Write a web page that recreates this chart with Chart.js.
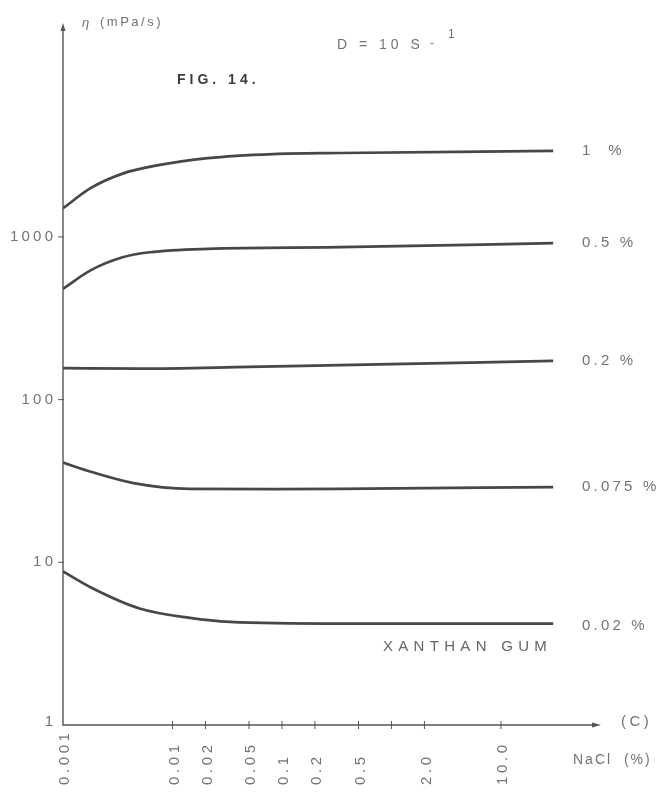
<!DOCTYPE html>
<html>
<head>
<meta charset="utf-8">
<script src="https://cdn.jsdelivr.net/npm/chart.js@4"></script>
<style>
  body { margin: 0; background: #fff; }
  #wrap { width: 664px; height: 793px; position: relative; }
</style>
</head>
<body>
<div id="wrap"><canvas id="fig14"></canvas></div>
<script>
// NaCl concentration (%) and viscosity (mPa/s)
const nacl1 = [0.001, 0.0018, 0.0035, 0.0072, 0.021, 0.083, 0.34, 30];
const visc1 = [1500, 2000, 2450, 2750, 3050, 3230, 3280, 3380];

const nacl05 = [0.001, 0.0018, 0.0035, 0.0062, 0.021, 0.34, 30];
const visc05 = [480, 625, 750, 805, 845, 865, 915];

const nacl02 = [0.001, 0.005, 0.05, 0.34, 30];
const visc02 = [156, 155, 159, 163, 173];

const nacl0075 = [0.001, 0.0018, 0.0044, 0.0144, 0.083, 0.34, 30];
const visc0075 = [41, 36, 30.7, 28.3, 28.2, 28.3, 29];

const nacl002 = [0.001, 0.0018, 0.005, 0.0144, 0.0335, 0.34, 30];
const visc002 = [8.8, 7.0, 5.2, 4.55, 4.3, 4.2, 4.2];

const seriesLabels = ['1  %', '0.5 %', '0.2 %', '0.075 %', '0.02 %'];

const xTicks = [0.001, 0.01, 0.02, 0.05, 0.1, 0.2, 0.5, 1, 2, 10];
const xTickLabels = ['0.001', '0.01', '0.02', '0.05', '0.1', '0.2', '0.5', '', '2.0', '10.0'];
const yTicks = [1, 10, 100, 1000];
const yTickLabels = ['1', '10', '100', '1000'];

const INK = '#474747';
const GREY = '#737373';

function toPoints(xs, ys) {
  return xs.map((x, i) => ({ x: x, y: ys[i] }));
}

function spacedText(ctx, str, x, y, font, spacing, align, color) {
  ctx.font = font;
  ctx.letterSpacing = spacing + 'px';
  ctx.fillStyle = color;
  ctx.textAlign = 'left';
  ctx.textBaseline = 'middle';
  const w = ctx.measureText(str).width - spacing;
  let x0 = x;
  if (align === 'right') x0 = x - w;
  if (align === 'center') x0 = x - w / 2;
  ctx.fillText(str, x0, y);
}

// axes with arrows, crossing ticks and all the printed text
const paperPlugin = {
  id: 'paper',
  beforeDatasetsDraw(chart) {
    const ctx = chart.ctx;
    const area = chart.chartArea;
    const xs = chart.scales.x;
    const ys = chart.scales.y;
    ctx.save();
    ctx.strokeStyle = '#555';
    ctx.fillStyle = '#555';
    ctx.lineWidth = 1.4;
    ctx.beginPath();
    ctx.moveTo(area.left, area.top + 4);
    ctx.lineTo(area.left, area.bottom);
    ctx.lineTo(area.right - 5, area.bottom);
    ctx.stroke();
    // arrow heads
    ctx.beginPath();
    ctx.moveTo(area.left, area.top);
    ctx.lineTo(area.left - 2.5, area.top + 8);
    ctx.lineTo(area.left + 2.5, area.top + 8);
    ctx.closePath();
    ctx.fill();
    ctx.beginPath();
    ctx.moveTo(area.right, area.bottom);
    ctx.lineTo(area.right - 9, area.bottom - 2.5);
    ctx.lineTo(area.right - 9, area.bottom + 2.5);
    ctx.closePath();
    ctx.fill();
    ctx.lineWidth = 1;
    xTicks.forEach((v, i) => {
      if (i === 0) return;
      const px = xs.getPixelForValue(v);
      ctx.beginPath();
      ctx.moveTo(px, area.bottom - 4);
      ctx.lineTo(px, area.bottom + 4);
      ctx.stroke();
    });
    yTicks.forEach((v, i) => {
      if (i === 0) return;
      const py = ys.getPixelForValue(v);
      ctx.beginPath();
      ctx.moveTo(area.left - 5, py);
      ctx.lineTo(area.left + 1, py);
      ctx.stroke();
    });
    ctx.restore();
  },
  afterDatasetsDraw(chart) {
    const ctx = chart.ctx;
    const area = chart.chartArea;
    const xs = chart.scales.x;
    const ys = chart.scales.y;
    ctx.save();
    const f15 = '15px "Liberation Sans", Arial, sans-serif';
    const f14 = '14px "Liberation Sans", Arial, sans-serif';

    yTicks.forEach((v, i) => {
      spacedText(ctx, yTickLabels[i], area.left - 10, ys.getPixelForValue(v) - (i === 0 ? 3 : 0), f15, 3.2, 'right', GREY);
    });

    xTicks.forEach((v, i) => {
      if (!xTickLabels[i]) return;
      ctx.save();
      ctx.translate(xs.getPixelForValue(v) + 2, area.bottom + 60);
      ctx.rotate(-Math.PI / 2);
      spacedText(ctx, xTickLabels[i], 0, 0, f15, 3.6, 'left', GREY);
      ctx.restore();
    });

    chart.data.datasets.forEach((ds, i) => {
      const last = ds.data[ds.data.length - 1];
      spacedText(ctx, seriesLabels[i], area.right - 19, ys.getPixelForValue(last.y) + (i === 4 ? 2 : 0), f15, 3.2, 'left', GREY);
    });

    spacedText(ctx, '(C)', area.right + 20, area.bottom - 3, f15, 3.5, 'left', GREY);
    spacedText(ctx, 'NaCl  (%)', area.right - 28, area.bottom + 35, f14, 2, 'left', GREY);

    spacedText(ctx, 'η', 82, 23, 'italic 13px "Liberation Sans", Arial, sans-serif', 0, 'left', GREY);
    spacedText(ctx, '(mPa/s)', 100, 22, '13px "Liberation Sans", Arial, sans-serif', 2.5, 'left', GREY);

    spacedText(ctx, 'D = 10 S', 337, 45, f14, 4, 'left', GREY);
    spacedText(ctx, '-', 430, 44, '12px "Liberation Sans", Arial, sans-serif', 0, 'left', GREY);
    spacedText(ctx, '1', 448, 35, '12px "Liberation Sans", Arial, sans-serif', 0, 'left', GREY);

    spacedText(ctx, 'FIG. 14.', 177, 80, 'bold 14px "Liberation Sans", Arial, sans-serif', 4, 'left', '#3c3c3c');

    spacedText(ctx, 'XANTHAN GUM', 383, 647, '15px "Liberation Sans", Arial, sans-serif', 5.3, 'left', '#666');
    ctx.restore();
  }
};

function series(xs, ys) {
  return {
    data: toPoints(xs, ys),
    borderColor: INK,
    borderWidth: 2.7,
    pointRadius: 0,
    cubicInterpolationMode: 'monotone',
    fill: false
  };
}

const config = {
  type: 'line',
  data: {
    datasets: [
      series(nacl1, visc1),
      series(nacl05, visc05),
      series(nacl02, visc02),
      series(nacl0075, visc0075),
      series(nacl002, visc002)
    ]
  },
  options: {
    responsive: true,
    maintainAspectRatio: false,
    animation: false,
    layout: {
      padding: { left: 63, right: 63, top: 23, bottom: 68 }
    },
    plugins: {
      legend: { display: false },
      tooltip: { enabled: false },
      title: { display: false }
    },
    scales: {
      x: { type: 'logarithmic', min: 0.001, max: 82, display: false },
      y: { type: 'logarithmic', min: 1, max: 20650, display: false }
    }
  },
  plugins: [paperPlugin]
};

new Chart(document.getElementById('fig14'), config);
</script>
</body>
</html>
